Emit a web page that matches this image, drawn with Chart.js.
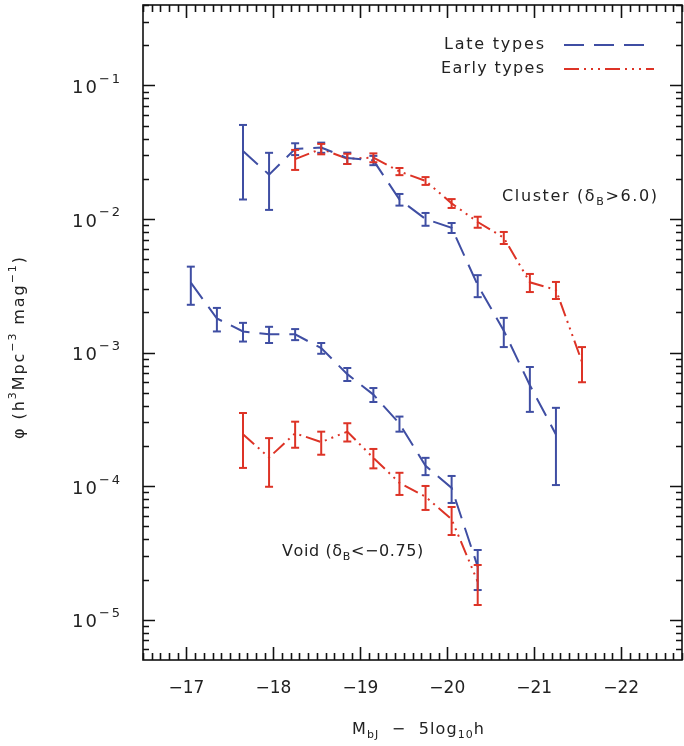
<!DOCTYPE html>
<html>
<head>
<meta charset="utf-8">
<script src="https://cdn.jsdelivr.net/npm/chart.js@4.4.1/dist/chart.umd.min.js"></script>
<style>
  body { margin: 0; background: #fff; }
  #wrap { width: 684px; height: 746px; }
</style>
</head>
<body>
<div id="wrap"><canvas id="myLF" width="684" height="746"></canvas></div>
<script>
// magnitude bins (M_bJ - 5log10 h)
const mag = [-17.05, -17.35, -17.65, -17.95, -18.25, -18.55, -18.85, -19.15,
             -19.45, -19.75, -20.05, -20.35, -20.65, -20.95, -21.25, -21.55];

// Late types, cluster
const lateCluster    = [null, null, 0.0323, 0.0215, 0.0335, 0.0343, 0.0286, 0.0275, 0.0140, 0.0100, 0.0086, 0.0032, 0.00146, 0.00057, 0.000244, null];
const lateClusterErr = [null, null, 0.0183, 0.0098, 0.0034, 0.0030, 0.0028, 0.0022, 0.0014, 0.0011, 0.00074, 0.0006, 0.00036, 0.00021, 0.000142, null];

// Early types, cluster
const earlyCluster    = [null, null, null, null, 0.0281, 0.0335, 0.0283, 0.0288, 0.0227, 0.0193, 0.0131, 0.0095, 0.00725, 0.00336, 0.00295, 0.00085];
const earlyClusterErr = [null, null, null, null, 0.0048, 0.0030, 0.0025, 0.0022, 0.0014, 0.0013, 0.0010, 0.0009, 0.00075, 0.00052, 0.00043, 0.00025];

// Late types, void
const lateVoid    = [0.00334, 0.0018, 0.00144, 0.00137, 0.00137, 0.00108, 0.00069, 0.000485, 0.000294, 0.000142, 0.0000971, 0.000025, null, null, null, null];
const lateVoidErr = [0.00106, 0.00036, 0.00023, 0.00019, 0.00013, 0.0001, 0.000077, 0.000058, 0.000038, 0.000021, 0.0000222, 0.0000083, null, null, null, null];

// Early types, void
const earlyVoid    = [null, null, 0.000245, 0.000164, 0.000249, 0.000214, 0.000256, 0.000163, 0.000106, 0.0000834, 0.0000565, 0.0000193, null, null, null, null];
const earlyVoidErr = [null, null, 0.000108, 0.000065, 0.000055, 0.000042, 0.00004, 0.000027, 0.00002, 0.000017, 0.0000134, 0.0000064, null, null, null, null];

const xTicks = [-17, -18, -19, -20, -21, -22];
const yDecades = [-1, -2, -3, -4, -5];

const BLUE = '#3f4ea3';
const RED = '#dd3326';
const LATE_DASH = [20, 10];
const EARLY_DASH = [15, 5, 2, 5, 2, 5, 2, 5];
const FONT = '"DejaVu Sans", "Liberation Sans", sans-serif';

function toPoints(vals) {
    const pts = [];
    for (let i = 0; i < mag.length; i++) {
        if (vals[i] !== null) pts.push({ x: mag[i], y: vals[i] });
    }
    return pts;
}

const series = [
    { vals: lateCluster, err: lateClusterErr, color: BLUE, dash: LATE_DASH },
    { vals: earlyCluster, err: earlyClusterErr, color: RED, dash: EARLY_DASH },
    { vals: lateVoid, err: lateVoidErr, color: BLUE, dash: LATE_DASH },
    { vals: earlyVoid, err: earlyVoidErr, color: RED, dash: EARLY_DASH }
];

// text with sub/superscript pieces, spread out to a target width
function partFont(p, size) {
    return (p.s ? Math.round(size * 0.68) : size) + 'px ' + FONT;
}
function drawRich(ctx, parts, x, y, size, align, target) {
    let w = 0, n = 0;
    parts.forEach(p => {
        ctx.font = partFont(p, size);
        w += ctx.measureText(p.t).width;
        n += p.t.length;
    });
    let gap = (target && n > 1) ? (target - w) / (n - 1) : 0;
    if (gap < 0) gap = 0;
    const total = w + gap * (n - 1);
    let cx = x;
    if (align === 'center') cx = x - total / 2;
    if (align === 'right') cx = x - total;
    ctx.textAlign = 'left';
    ctx.textBaseline = 'middle';
    parts.forEach(p => {
        let dy = 0;
        if (p.s === 'sup') dy = -size * 0.42;
        if (p.s === 'sub') dy = size * 0.32;
        ctx.font = partFont(p, size);
        for (const ch of p.t) {
            ctx.fillText(ch, cx, y + dy);
            cx += ctx.measureText(ch).width + gap;
        }
    });
}

function line(ctx, x1, y1, x2, y2) {
    ctx.beginPath();
    ctx.moveTo(x1, y1);
    ctx.lineTo(x2, y2);
    ctx.stroke();
}

// error bars drawn through the chart scales
const errorBarPlugin = {
    id: 'errorBars',
    afterDatasetsDraw(chart) {
        const ctx = chart.ctx;
        const xs = chart.scales.x, ys = chart.scales.y;
        ctx.save();
        ctx.setLineDash([]);
        ctx.lineWidth = 2;
        series.forEach(s => {
            ctx.strokeStyle = s.color;
            for (let i = 0; i < mag.length; i++) {
                if (s.vals[i] === null) continue;
                const px = xs.getPixelForValue(mag[i]);
                const top = ys.getPixelForValue(s.vals[i] + s.err[i]);
                const bot = ys.getPixelForValue(s.vals[i] - s.err[i]);
                line(ctx, px, top, px, bot);
                line(ctx, px - 4, top, px + 4, top);
                line(ctx, px - 4, bot, px + 4, bot);
            }
        });
        ctx.restore();
    }
};

// texts: tick labels, titles, annotations, legend
const textPlugin = {
    id: 'texts',
    afterDraw(chart) {
        const ctx = chart.ctx;
        const xs = chart.scales.x, ys = chart.scales.y;
        ctx.save();
        ctx.fillStyle = '#222';
        xTicks.forEach(t => {
            const px = xs.getPixelForValue(t);
            drawRich(ctx, [{ t: '\u2212' + Math.abs(t) }], px, 689, 17, 'center', 31);
        });
        yDecades.forEach(d => {
            const py = ys.getPixelForValue(Math.pow(10, d));
            drawRich(ctx, [{ t: '10' }], 97, py + 3, 18, 'right', 25);
            drawRich(ctx, [{ t: '\u2212' + Math.abs(d) }], 99, py - 6, 13, 'left', 21);
        });

        drawRich(ctx, [{ t: 'M' }, { t: 'bJ', s: 'sub' }, { t: '  \u2212  5log' }, { t: '10', s: 'sub' }, { t: 'h' }],
                 418, 730, 16, 'center', 132);
        ctx.save();
        ctx.translate(20, 348);
        ctx.rotate(-Math.PI / 2);
        drawRich(ctx, [{ t: '\u03c6 (h' }, { t: '3', s: 'sup' }, { t: 'Mpc' }, { t: '\u22123', s: 'sup' },
                       { t: ' mag' }, { t: '\u22121', s: 'sup' }, { t: ')' }], 0, 0, 16, 'center', 182);
        ctx.restore();

        drawRich(ctx, [{ t: 'Cluster (\u03b4' }, { t: 'B', s: 'sub' }, { t: '>6.0)' }], 502, 197, 16, 'left', 155);
        drawRich(ctx, [{ t: 'Void (\u03b4' }, { t: 'B', s: 'sub' }, { t: '<\u22120.75)' }], 282, 552, 16, 'left', 140);

        drawRich(ctx, [{ t: 'Late types' }], 544, 45, 16, 'right', 100);
        drawRich(ctx, [{ t: 'Early types' }], 544, 69, 16, 'right', 103);
        ctx.lineWidth = 2;
        ctx.setLineDash(LATE_DASH);
        ctx.strokeStyle = BLUE;
        line(ctx, 564, 45, 654, 45);
        ctx.setLineDash(EARLY_DASH);
        ctx.strokeStyle = RED;
        line(ctx, 564, 69, 654, 69);
        ctx.restore();
    }
};

// frame with inward minor/major ticks, drawn last
const framePlugin = {
    id: 'frame',
    afterDraw(chart) {
        const ctx = chart.ctx;
        const xs = chart.scales.x, ys = chart.scales.y;
        const a = chart.chartArea;
        ctx.save();
        ctx.setLineDash([]);
        ctx.lineCap = 'butt';
        ctx.strokeStyle = '#111';
        ctx.lineWidth = 1.6;
        ctx.strokeRect(a.left, a.top, a.right - a.left, a.bottom - a.top);
        ctx.beginPath();
        for (let m = -165; m >= -227; m--) {
            const px = Math.round(xs.getPixelForValue(m / 10)) + 0.5;
            const len = (m % 10 === 0) ? 13 : 7;
            ctx.moveTo(px, a.bottom);
            ctx.lineTo(px, a.bottom - len);
            ctx.moveTo(px, a.top);
            ctx.lineTo(px, a.top + len);
        }
        for (let d = -6; d <= 0; d++) {
            for (let k = 1; k <= 9; k++) {
                const v = k * Math.pow(10, d);
                if (v < 5e-6 || v > 0.4) continue;
                const py = Math.round(ys.getPixelForValue(v)) + 0.5;
                const len = (k === 1) ? 12 : 6;
                ctx.moveTo(a.left, py);
                ctx.lineTo(a.left + len, py);
                ctx.moveTo(a.right, py);
                ctx.lineTo(a.right - len, py);
            }
        }
        ctx.stroke();
        ctx.restore();
    }
};

const data = {
    datasets: series.map(s => ({
        data: toPoints(s.vals),
        borderColor: s.color,
        borderWidth: 2,
        borderDash: s.dash,
        pointRadius: 0,
        fill: false,
        tension: 0
    }))
};

const config = {
    type: 'line',
    data: data,
    options: {
        responsive: false,
        animation: false,
        layout: { padding: { left: 143, right: 2, top: 5, bottom: 86 } },
        scales: {
            x: { type: 'linear', min: -22.7, max: -16.5, reverse: true, display: false },
            y: { type: 'logarithmic', min: 5e-6, max: 0.4, display: false }
        },
        plugins: {
            legend: { display: false },
            tooltip: { enabled: false }
        }
    },
    plugins: [errorBarPlugin, textPlugin, framePlugin]
};

new Chart(document.getElementById('myLF'), config);
</script>
</body>
</html>
